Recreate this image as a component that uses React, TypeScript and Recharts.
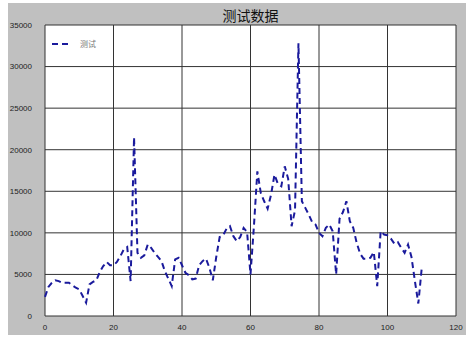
import { LineChart, Line, XAxis, YAxis, CartesianGrid } from "recharts";

// values, one per integer x from 0 to 110
const values = [
  2300, 3500, 4000, 4300, 4200, 4000, 4000, 4000, 3700, 3400,
  3200, 2400, 1600, 3800, 4100, 4300, 5300, 6000, 6500, 6100,
  6100, 6500, 7200, 8000, 8300, 4200, 21500, 7600, 7000, 7300,
  8600, 8200, 7600, 7100, 6600, 5400, 4500, 3600, 6800, 7000,
  6100, 5200, 4900, 4400, 4500, 6100, 6600, 6900, 5800, 4300,
  7100, 9500, 9700, 10500, 10800, 9600, 9000, 9500, 10600, 10100,
  5000, 10800, 17400, 14800, 13800, 12900, 14600, 17000, 15900, 15600,
  18000, 16500, 10800, 12700, 32800, 13800, 13000, 12200, 11300, 11000,
  10000, 9600, 10600, 11000, 10200, 5000, 11700, 12500, 13800, 11400,
  10600, 8800, 7500, 6900, 6900, 7000, 7700, 3600, 10200, 9800,
  9700, 9300, 8700, 8900, 8200, 7600, 8600, 7100, 4200, 1500,
  5800,
];
const xTicks = [0, 20, 40, 60, 80, 100, 120];
const yTicks = [0, 5000, 10000, 15000, 20000, 25000, 30000, 35000];
const seriesName = "测试";
const title = "测试数据";

const data = values.map((v, i) => ({ x: i, y: v }));

const LINE_COLOR = "#1a1a9c";

export default function App() {
  return (
    <div
      style={{
        position: "absolute",
        left: 8,
        top: 3,
        width: 458,
        height: 332,
        background: "#c0c0c0",
        fontFamily: "'Liberation Sans', Arial, sans-serif",
      }}
    >
      <div
        style={{
          position: "absolute",
          left: 37,
          width: 411,
          top: 3,
          textAlign: "center",
          fontSize: 14,
          fontFamily: "'Noto Sans CJK SC', sans-serif",
          color: "#111",
          lineHeight: "18px",
        }}
      >
        {title}
      </div>
      <LineChart width={458} height={332} data={data} margin={{ top: 22, right: 10, bottom: 0, left: 0 }}>
        <CartesianGrid fill="#fff" stroke="#333" strokeWidth={1} horizontalValues={yTicks} verticalValues={xTicks} />
        <XAxis
          dataKey="x"
          type="number"
          domain={[0, 120]}
          ticks={xTicks}
          interval={0}
          axisLine={false}
          tickLine={false}
          height={19}
          tickMargin={2}
          tick={{ fontSize: 8, fill: "#222" }}
        />
        <YAxis
          type="number"
          domain={[0, 35000]}
          ticks={yTicks}
          interval={0}
          axisLine={false}
          tickLine={false}
          width={37}
          tickMargin={7}
          tick={{ fontSize: 8, fill: "#222" }}
        />
        <Line
          type="linear"
          dataKey="y"
          name={seriesName}
          stroke={LINE_COLOR}
          strokeWidth={2}
          strokeDasharray="6 4"
          dot={false}
          isAnimationActive={false}
        />
      </LineChart>
      <div style={{ position: "absolute", left: 44, top: 35, display: "flex", alignItems: "center" }}>
        <svg width={18} height={6}>
          <line x1={0} y1={3} x2={18} y2={3} stroke={LINE_COLOR} strokeWidth={2} strokeDasharray="6 4" />
        </svg>
        <span style={{ marginLeft: 10, fontSize: 8, color: "#777", fontFamily: "'Noto Sans CJK SC', sans-serif" }}>
          {seriesName}
        </span>
      </div>
    </div>
  );
}
